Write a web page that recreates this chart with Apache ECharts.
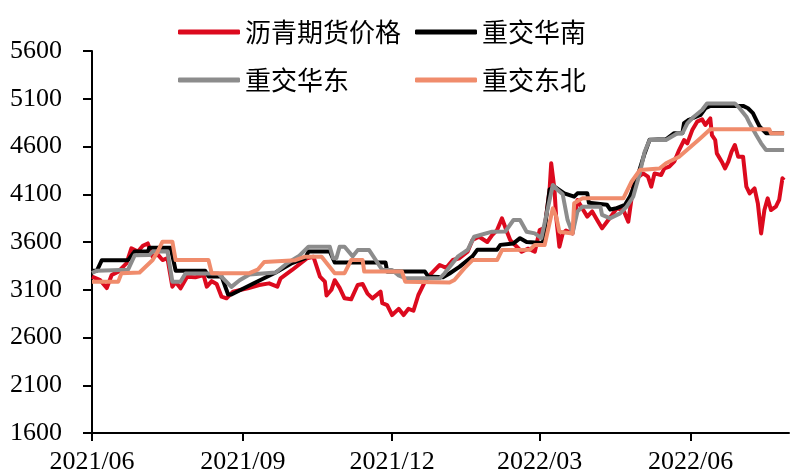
<!DOCTYPE html>
<html><head><meta charset="utf-8">
<script src="https://cdn.jsdelivr.net/npm/echarts@6/dist/echarts.min.js"></script>
<style>html,body{margin:0;padding:0;background:#fff}#c{width:812px;height:476px}</style>
</head><body><div id="c"></div>
<script>
const seriesNames = ['沥青期货价格', '重交华南', '重交华东', '重交东北'];
const xTickDates = ['2021-06-01', '2021-09-01', '2021-12-01', '2022-03-01', '2022-06-01'];
const yMin = 1600, yMax = 5600, yStep = 500;

const redDates = ['2021-06-01','2021-06-06','2021-06-10','2021-06-13','2021-06-17','2021-06-22','2021-06-25','2021-06-29','2021-07-02','2021-07-05','2021-07-08','2021-07-11','2021-07-14','2021-07-17','2021-07-20','2021-07-22','2021-07-25','2021-07-29','2021-08-03','2021-08-08','2021-08-10','2021-08-13','2021-08-16','2021-08-19','2021-08-22','2021-08-26','2021-09-04','2021-09-11','2021-09-17','2021-09-22','2021-09-24','2021-10-01','2021-10-10','2021-10-14','2021-10-18','2021-10-21','2021-10-22','2021-10-25','2021-10-27','2021-10-30','2021-11-02','2021-11-06','2021-11-10','2021-11-13','2021-11-16','2021-11-19','2021-11-24','2021-11-25','2021-11-28','2021-12-01','2021-12-05','2021-12-08','2021-12-11','2021-12-14','2021-12-17','2021-12-19','2021-12-21','2021-12-25','2021-12-30','2022-01-03','2022-01-07','2022-01-11','2022-01-16','2022-01-19','2022-01-23','2022-01-28','2022-01-31','2022-02-03','2022-02-06','2022-02-09','2022-02-11','2022-02-15','2022-02-18','2022-02-22','2022-02-26','2022-03-01','2022-03-04','2022-03-07','2022-03-08','2022-03-10','2022-03-11','2022-03-13','2022-03-15','2022-03-17','2022-03-21','2022-03-24','2022-03-27','2022-03-30','2022-04-02','2022-04-05','2022-04-08','2022-04-11','2022-04-14','2022-04-17','2022-04-21','2022-04-24','2022-04-27','2022-04-29','2022-05-03','2022-05-06','2022-05-08','2022-05-10','2022-05-14','2022-05-16','2022-05-19','2022-05-22','2022-05-25','2022-05-28','2022-05-30','2022-06-02','2022-06-05','2022-06-08','2022-06-10','2022-06-13','2022-06-14','2022-06-16','2022-06-17','2022-06-20','2022-06-22','2022-06-24','2022-06-26','2022-06-28','2022-06-30','2022-07-03','2022-07-05','2022-07-07','2022-07-10','2022-07-12','2022-07-14','2022-07-16','2022-07-18','2022-07-20','2022-07-23','2022-07-25','2022-07-27','2022-07-28'];
const redValues = [3237,3200,3118,3254,3290,3377,3534,3500,3560,3585,3446,3470,3411,3430,3132,3180,3115,3237,3230,3254,3132,3190,3160,3027,3010,3080,3115,3150,3167,3132,3220,3307,3429,3446,3237,3185,3040,3100,3200,3120,3010,3000,3150,3160,3060,3010,3080,2960,2940,2835,2900,2835,2900,2880,3045,3115,3185,3272,3359,3330,3411,3430,3498,3620,3655,3600,3673,3725,3848,3708,3620,3550,3498,3530,3498,3725,3750,4144,4424,4150,3866,3550,3690,3720,3690,4040,3950,3866,3920,3830,3743,3812,3880,3953,3935,3812,4179,4267,4318,4284,4179,4318,4301,4370,4390,4441,4563,4668,4633,4772,4860,4884,4825,4895,4720,4668,4528,4441,4370,4441,4546,4616,4493,4493,4179,4109,4162,4005,3690,3935,4057,3935,3970,4040,4267,4249];

const southDates = ['2021-06-01','2021-06-04','2021-06-07','2021-06-23','2021-06-27','2021-07-05','2021-07-06','2021-07-19','2021-07-22','2021-08-09','2021-08-11','2021-08-19','2021-08-23','2021-08-25','2021-09-08','2021-09-21','2021-10-01','2021-10-09','2021-10-11','2021-10-24','2021-10-27','2021-11-27','2021-11-28','2021-12-21','2021-12-23','2022-01-01','2022-01-05','2022-01-11','2022-01-19','2022-01-22','2022-02-03','2022-02-05','2022-02-13','2022-02-17','2022-02-21','2022-03-03','2022-03-07','2022-03-10','2022-03-16','2022-03-22','2022-03-24','2022-03-30','2022-03-31','2022-04-11','2022-04-13','2022-04-17','2022-04-22','2022-04-25','2022-04-29','2022-05-04','2022-05-07','2022-05-17','2022-05-22','2022-05-27','2022-05-28','2022-05-31','2022-06-07','2022-06-10','2022-06-13','2022-07-03','2022-07-06','2022-07-09','2022-07-11','2022-07-13','2022-07-17','2022-07-28'];
const southValues = [3300,3300,3410,3410,3500,3500,3540,3540,3300,3300,3240,3240,3050,3050,3170,3280,3380,3430,3500,3500,3385,3385,3290,3290,3240,3230,3270,3340,3450,3520,3520,3570,3585,3640,3600,3590,4150,4180,4110,4075,4110,4110,4010,3990,3940,3955,3990,4075,4250,4530,4670,4675,4740,4740,4845,4880,4930,5000,5025,5025,5000,4950,4880,4810,4740,4740];

const eastDates = ['2021-06-01','2021-06-04','2021-06-23','2021-06-27','2021-07-06','2021-07-08','2021-07-17','2021-07-20','2021-07-25','2021-07-28','2021-08-17','2021-08-25','2021-08-30','2021-09-05','2021-09-21','2021-09-28','2021-10-05','2021-10-11','2021-10-24','2021-10-26','2021-10-28','2021-10-30','2021-11-02','2021-11-07','2021-11-10','2021-11-17','2021-11-25','2021-12-01','2021-12-05','2021-12-09','2021-12-30','2022-01-02','2022-01-06','2022-01-10','2022-01-16','2022-01-20','2022-01-31','2022-02-08','2022-02-13','2022-02-17','2022-02-21','2022-02-26','2022-03-02','2022-03-09','2022-03-12','2022-03-15','2022-03-18','2022-03-21','2022-03-24','2022-03-27','2022-04-07','2022-04-08','2022-04-13','2022-04-19','2022-04-23','2022-04-27','2022-05-01','2022-05-04','2022-05-07','2022-05-17','2022-05-24','2022-05-27','2022-05-30','2022-06-03','2022-06-08','2022-06-11','2022-06-28','2022-07-01','2022-07-05','2022-07-07','2022-07-11','2022-07-14','2022-07-17','2022-07-28'];
const eastValues = [3275,3300,3310,3460,3465,3500,3500,3185,3185,3270,3270,3130,3200,3260,3280,3377,3450,3550,3550,3430,3430,3550,3550,3450,3515,3515,3307,3307,3250,3220,3220,3272,3359,3446,3516,3655,3708,3710,3830,3830,3708,3690,3640,4197,4144,4100,3830,3690,3918,3970,3970,3883,3848,3900,3970,4074,4318,4546,4668,4668,4738,4738,4843,4912,4982,5051,5051,4999,4912,4843,4720,4633,4563,4563];

const northDates = ['2021-06-01','2021-06-17','2021-06-19','2021-06-30','2021-07-08','2021-07-11','2021-07-14','2021-07-20','2021-07-22','2021-08-11','2021-08-13','2021-09-05','2021-09-10','2021-09-14','2021-10-03','2021-10-09','2021-10-19','2021-10-23','2021-10-27','2021-11-02','2021-11-06','2021-11-13','2021-11-14','2021-12-07','2021-12-09','2022-01-05','2022-01-08','2022-01-14','2022-01-19','2022-02-03','2022-02-06','2022-02-23','2022-02-26','2022-03-04','2022-03-09','2022-03-11','2022-03-13','2022-03-21','2022-03-22','2022-03-27','2022-04-21','2022-04-26','2022-05-01','2022-05-13','2022-05-17','2022-05-25','2022-05-31','2022-06-07','2022-06-13','2022-07-19','2022-07-20','2022-07-28'];
const northValues = [3185,3185,3274,3280,3411,3498,3603,3603,3411,3411,3274,3274,3310,3390,3410,3446,3446,3360,3274,3274,3411,3411,3290,3290,3185,3175,3202,3324,3411,3411,3516,3520,3568,3568,3953,3870,3708,3690,4005,4057,4057,4231,4353,4370,4424,4493,4581,4686,4780,4780,4738,4738];

const colors = ['#DC0A1E', '#000000', '#8C8C8C', '#F08C6C'];

const pd = s => +echarts.number.parseDate(s);
function pairs(d, v) { return d.map((x, i) => [pd(x), v[i]]); }

const chart = echarts.init(document.getElementById('c'), null, {renderer: 'canvas'});
const axisFont = {fontFamily: 'Liberation Serif', fontSize: 26, color: '#000'};
const legendText = {fontFamily: 'Noto Sans CJK SC', fontSize: 26, lineHeight: 26, color: '#000'};
chart.setOption({
  animation: false,
  backgroundColor: '#fff',
  grid: {left: 92, right: 23, top: 51, bottom: 43, containLabel: false, outerBoundsMode: 'none'},
  legend: [
    {orient: 'vertical', left: 173, top: 14, itemGap: 22, itemWidth: 62, itemHeight: 5, icon: 'roundRect',
     data: [seriesNames[0], seriesNames[2]], textStyle: legendText},
    {orient: 'vertical', left: 410, top: 14, itemGap: 22, itemWidth: 62, itemHeight: 5, icon: 'roundRect',
     data: [seriesNames[1], seriesNames[3]], textStyle: legendText}
  ],
  xAxis: {
    type: 'value',
    min: pd('2021-06-01'), max: pd('2022-07-31'),
    splitLine: {show: false},
    axisLine: {show: true, onZero: false, lineStyle: {color: '#000', width: 2}},
    axisTick: {show: true, length: 8, lineStyle: {color: '#000', width: 2}, customValues: xTickDates.map(pd)},
    axisLabel: Object.assign({margin: 16, customValues: xTickDates.map(pd),
      formatter: v => { const d = new Date(v); return d.getFullYear() + '/' + String(d.getMonth() + 1).padStart(2, '0'); }}, axisFont)
  },
  yAxis: {
    type: 'value', min: yMin, max: yMax, interval: yStep,
    splitLine: {show: false},
    axisLine: {show: true, lineStyle: {color: '#000', width: 2}},
    axisTick: {show: true, length: 9, lineStyle: {color: '#000', width: 2}},
    axisLabel: Object.assign({margin: 30, formatter: v => String(v)}, axisFont)
  },
  series: [
    {name: seriesNames[0], type: 'line', data: pairs(redDates, redValues)},
    {name: seriesNames[1], type: 'line', data: pairs(southDates, southValues)},
    {name: seriesNames[2], type: 'line', data: pairs(eastDates, eastValues)},
    {name: seriesNames[3], type: 'line', data: pairs(northDates, northValues)}
  ].map((s, i) => Object.assign(s, {
    color: colors[i], showSymbol: false, symbol: 'none',
    lineStyle: {width: 4, color: colors[i], join: 'round'}
  }))
});
</script></body></html>
